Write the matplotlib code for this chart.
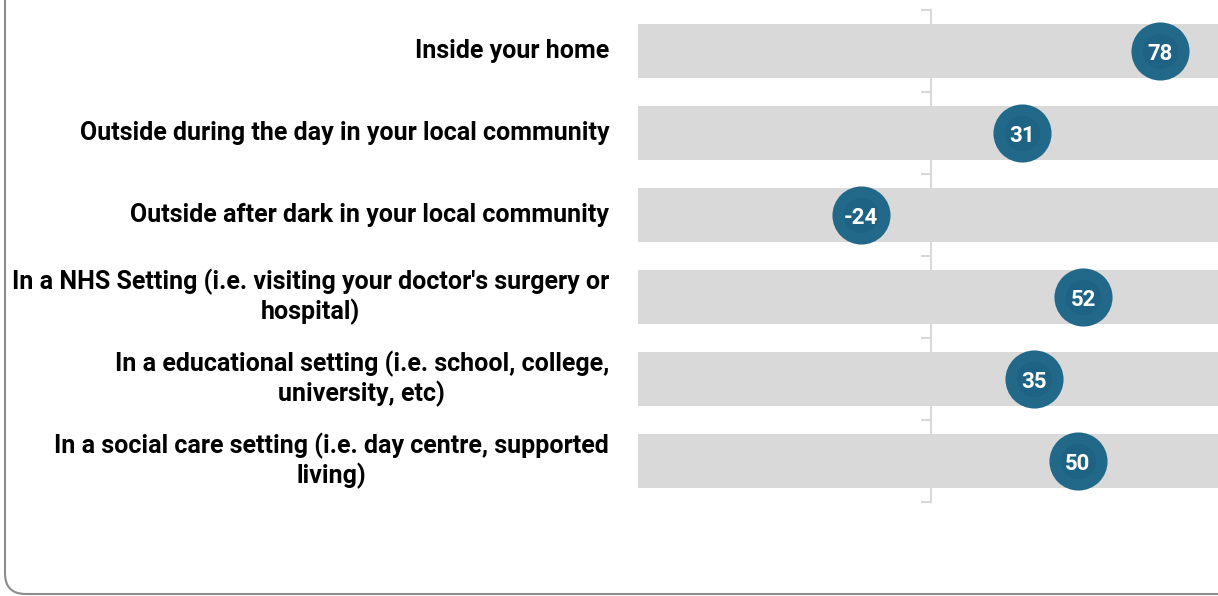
import matplotlib.pyplot as plt
from matplotlib.patches import FancyBboxPatch
import numpy as np

# feeling-of-safety net scores by setting
categories = [
    "Inside your home",
    "Outside during the day in your local community",
    "Outside after dark in your local community",
    "In a NHS Setting (i.e. visiting your doctor's surgery or\nhospital)",
    "In a educational setting (i.e. school, college,\nuniversity, etc)",
    "In a social care setting (i.e. day centre, supported\nliving)",
]
scores = [78, 31, -24, 52, 35, 50]
x_min, x_max = -100, 100

plt.rcParams['font.family'] = ['Roboto', 'DejaVu Sans']

W, H = 1218, 596
fig = plt.figure(figsize=(W / 100, H / 100), dpi=100)

# rounded frame around the chart area
frame = FancyBboxPatch((5 / W, 2 / H), 1.2, 1.2,
                       boxstyle="round,pad=0,rounding_size=0.017",
                       transform=fig.transFigure, facecolor='none',
                       edgecolor='#8c8c8c', linewidth=1.5, mutation_aspect=W / H)
fig.patches.append(frame)

ax = fig.add_axes([638 / W, 1 - 502 / H, (1224 - 638) / W, 492 / H])
y = np.arange(len(categories))

ax.barh(y, x_max - x_min, left=x_min, height=0.67, color='#d9d9d9', zorder=2)

# two-tone dial marker
ax.scatter(scores, y, s=1750, color='#226888', zorder=3, linewidths=0)
ax.scatter(scores, y, s=650, color='#1e6384', zorder=4, linewidths=0)
for v, yy in zip(scores, y):
    ax.text(v, yy, str(v), ha='center', va='center_baseline', color='white',
            fontsize=16, fontweight='bold', zorder=5)

for lab, yy in zip(categories, y):
    ax.annotate(lab, xy=(0, yy), xycoords=('axes fraction', 'data'),
                xytext=(-29, 0), textcoords='offset pixels',
                ha='right', va='center', multialignment='center',
                fontsize=18, fontweight='bold', color='black', linespacing=1.2)

ax.set_xlim(x_min, x_max)
ax.set_ylim(len(categories) - 0.5, -0.5)

# zero line with category separators
for s in ['top', 'right', 'bottom']:
    ax.spines[s].set_visible(False)
ax.spines['left'].set_position(('data', 0))
ax.spines['left'].set_color('#d9d9d9')
ax.spines['left'].set_linewidth(1.5)
ax.spines['left'].set_zorder(1)
ax.set_yticks(np.arange(len(categories) + 1) - 0.5)
ax.set_yticklabels([])
ax.tick_params(axis='y', length=7, width=1.5, color='#d9d9d9', direction='out')
ax.set_xticks([])
ax.set_axisbelow(True)
ax.patch.set_visible(False)

fig.savefig('out.png', dpi=100)
